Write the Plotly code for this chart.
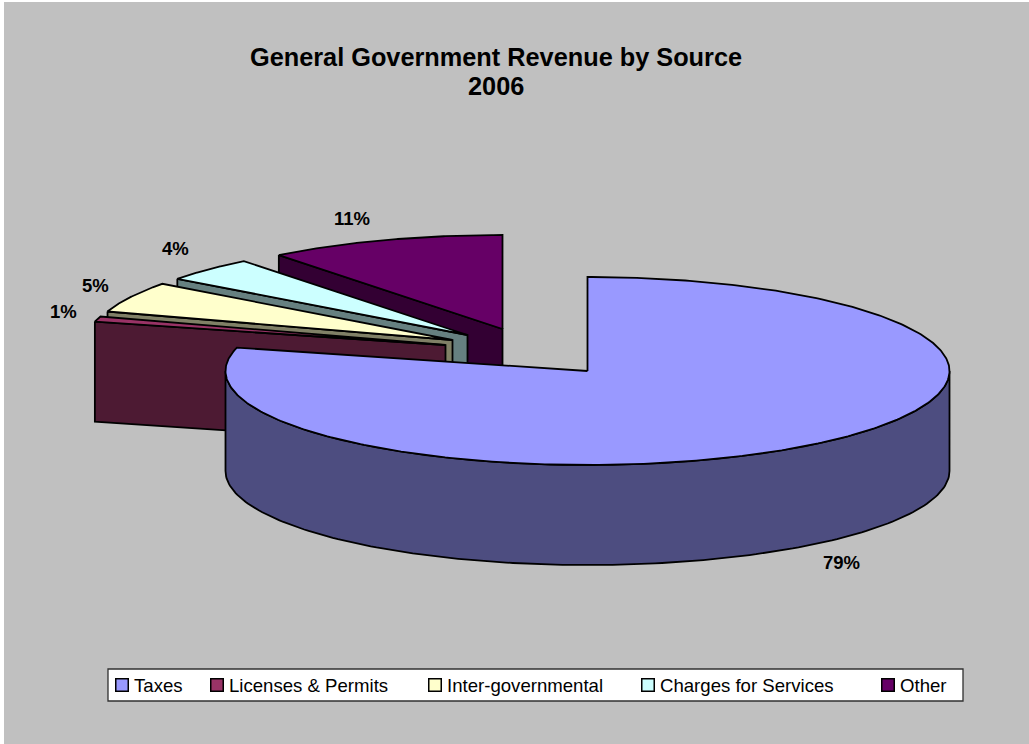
import numpy as np
import plotly.graph_objects as go

# ---- data ----
categories = ["Taxes", "Licenses & Permits", "Inter-governmental", "Charges for Services", "Other"]
shares = [79.0, 0.9, 5.3, 4.2, 10.6]
pct_labels = ["79%", "1%", "5%", "4%", "11%"]
title_lines = ["General Government Revenue by Source", "2006"]

# ---- style ----
top_colors = ["#9999FF", "#993366", "#FFFFCC", "#CCFFFF", "#660066"]
side_colors = ["#4D4D80", "#4D1A33", "#808066", "#668080", "#330033"]

# ---- pie projection, in pixel-scaled axis units ----
W, H = 1029, 744
CX, CY = 587.5, 371
RX, RY = 362, 94
DEPTH = 100
explode_dx = [0, -142, -135, -120, -85]
explode_dy = [0, -26, -31, -36, -42]
label_xy = [(841, 562), (63, 311), (95, 285), (175, 248), (352, 218)]
title_y = [57, 86]
legend_swatch_x = [122, 217, 435, 648, 888]
legend_text_x = [134, 229, 447, 660, 900]
LEGEND_Y = 685


def rim(cx, cy, a0, a1, n=160):
    t = np.radians(np.linspace(a0, a1, n))
    return cx + RX * np.sin(t), cy - RY * np.cos(t)


def add_poly(fig, x, y, color, name):
    fig.add_trace(go.Scatter(
        x=np.append(x, x[0]), y=np.append(y, y[0]), mode="lines", fill="toself",
        fillcolor=color, line=dict(color="black", width=1.8), name=name,
        showlegend=False, hoverinfo="name",
    ))


fig = go.Figure()
edges = np.cumsum([0] + shares) / sum(shares) * 360

# back slices first, Taxes last
for i in [4, 3, 2, 1]:
    cx, cy = CX + explode_dx[i], CY + explode_dy[i]
    rx, ry = rim(cx, cy, edges[i], edges[i + 1])
    # cut wall seen from the front: from the first rim point to the apex, extruded
    wx = [rx[0], cx, cx, rx[0]]
    wy = [ry[0], cy, cy + DEPTH, ry[0] + DEPTH]
    add_poly(fig, np.array(wx), np.array(wy), side_colors[i], categories[i])
    add_poly(fig, np.concatenate([[cx], rx]), np.concatenate([[cy], ry]), top_colors[i], categories[i])

# Taxes: outer rim wall for the front half, then the top
sx, sy = rim(CX, CY, 90, 270)
add_poly(fig, np.concatenate([sx, sx[::-1]]), np.concatenate([sy, sy[::-1] + DEPTH]), side_colors[0], categories[0])
tx, ty = rim(CX, CY, edges[0], edges[1], 400)
add_poly(fig, np.concatenate([[CX], tx]), np.concatenate([[CY], ty]), top_colors[0], categories[0])

# legend swatches
for i, cat in enumerate(categories):
    fig.add_trace(go.Scatter(
        x=[legend_swatch_x[i]], y=[LEGEND_Y], mode="markers", name=cat, showlegend=False,
        marker=dict(symbol="square", size=12.5, color=top_colors[i], line=dict(color="black", width=1.5)),
        hoverinfo="name",
    ))

FONT = "Liberation Sans, Arial"
annotations = []
for (x, y), txt in zip(label_xy, pct_labels):
    annotations.append(dict(x=x, y=y, text=f"<b>{txt}</b>", showarrow=False, xref="x", yref="y",
                            font=dict(family=FONT, size=18.5, color="black")))
for x, cat in zip(legend_text_x, categories):
    annotations.append(dict(x=x, y=LEGEND_Y, text=cat, showarrow=False, xref="x", yref="y", xanchor="left",
                            xshift=-2, font=dict(family=FONT, size=18.6, color="black")))
for y, line in zip(title_y, title_lines):
    annotations.append(dict(x=496, y=y, text=f"<b>{line}</b>", showarrow=False, xref="x", yref="y",
                            font=dict(family=FONT, size=25.3, color="black")))

shapes = [
    dict(type="rect", xref="x", yref="y", x0=4, y0=2, x1=W, y1=H, layer="below",
         fillcolor="#C0C0C0", line=dict(width=0)),
    dict(type="rect", xref="x", yref="y", x0=108, y0=669, x1=963, y1=701, layer="below",
         fillcolor="white", line=dict(color="#303030", width=1.3)),
]

fig.update_layout(
    width=W, height=H, margin=dict(l=0, r=0, t=0, b=0),
    paper_bgcolor="white", plot_bgcolor="white", showlegend=False,
    xaxis=dict(range=[0, W], visible=False, fixedrange=True),
    yaxis=dict(range=[H, 0], visible=False, fixedrange=True),
    shapes=shapes, annotations=annotations,
)
fig.write_html("out.html", post_script="document.body.style.margin='0';document.body.style.overflow='hidden';",
               config={"displayModeBar": False})
